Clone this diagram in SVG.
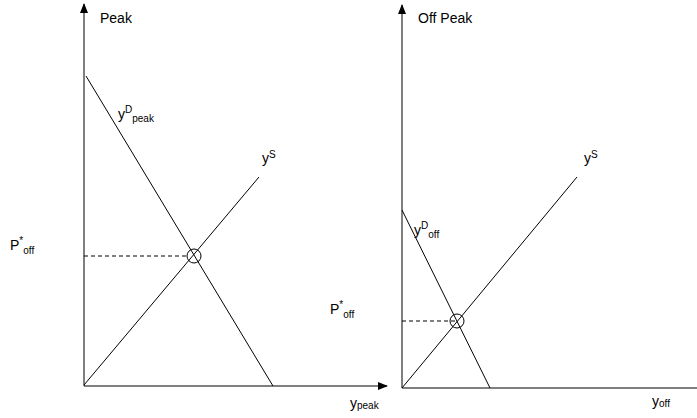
<svg xmlns="http://www.w3.org/2000/svg" width="697" height="418" viewBox="0 0 697 418">
<defs>
<marker id="arr" markerWidth="10" markerHeight="8" refX="9" refY="4" orient="auto" markerUnits="userSpaceOnUse">
<path d="M0,0 L10,4 L0,8 Z" fill="#000"/>
</marker>
<style>
.ln{stroke:#000;stroke-width:1;fill:none}
.ds{stroke:#000;stroke-width:1;stroke-dasharray:4,3;fill:none}
.t{font-family:"Liberation Sans",Arial,sans-serif;font-size:14px;fill:#000}
.s{font-size:10px}
</style>
</defs>
<rect width="697" height="418" fill="#fff"/>
<g id="connectors">
<line class="ln" x1="84" y1="386" x2="84" y2="4" marker-end="url(#arr)"/>
<line class="ln" x1="84" y1="386" x2="387" y2="386" marker-end="url(#arr)"/>
<line class="ln" x1="86" y1="76" x2="273" y2="386"/>
<line class="ln" x1="84" y1="385" x2="259" y2="177"/>
<line class="ds" x1="84" y1="256" x2="187" y2="256"/>
<line class="ln" x1="402" y1="388" x2="402" y2="5" marker-end="url(#arr)"/>
<line class="ln" x1="402" y1="388" x2="697" y2="388"/>
<line class="ln" x1="402" y1="210" x2="490" y2="388"/>
<line class="ln" x1="402" y1="388" x2="577" y2="177"/>
<line class="ds" x1="402" y1="321" x2="457" y2="321"/>
</g>
<g id="eq-peak"><circle class="ln" cx="194" cy="256" r="7"/></g>
<g id="eq-off"><circle class="ln" cx="457" cy="321" r="7"/></g>
<g id="labels">
<text class="t" x="100" y="23">Peak</text>
<text class="t" x="418" y="23">Off Peak</text>
<text class="t" x="118" y="119">y<tspan class="s" dy="-6">D</tspan><tspan class="s" dy="9">peak</tspan></text>
<text class="t" x="262" y="163">y<tspan class="s" dy="-5">S</tspan></text>
<text class="t" x="584" y="163">y<tspan class="s" dy="-5">S</tspan></text>
<text class="t" x="414" y="235">y<tspan class="s" dy="-6">D</tspan><tspan class="s" dy="9">off</tspan></text>
<text class="t" x="10" y="250">P<tspan class="s" dy="-6">*</tspan><tspan class="s" dy="10">off</tspan></text>
<text class="t" x="330" y="314">P<tspan class="s" dy="-6">*</tspan><tspan class="s" dy="10">off</tspan></text>
<text class="t" x="350" y="408">y<tspan class="s" dy="1">peak</tspan></text>
<text class="t" x="652" y="406">y<tspan class="s" dy="1">off</tspan></text>
</g>
</svg>
